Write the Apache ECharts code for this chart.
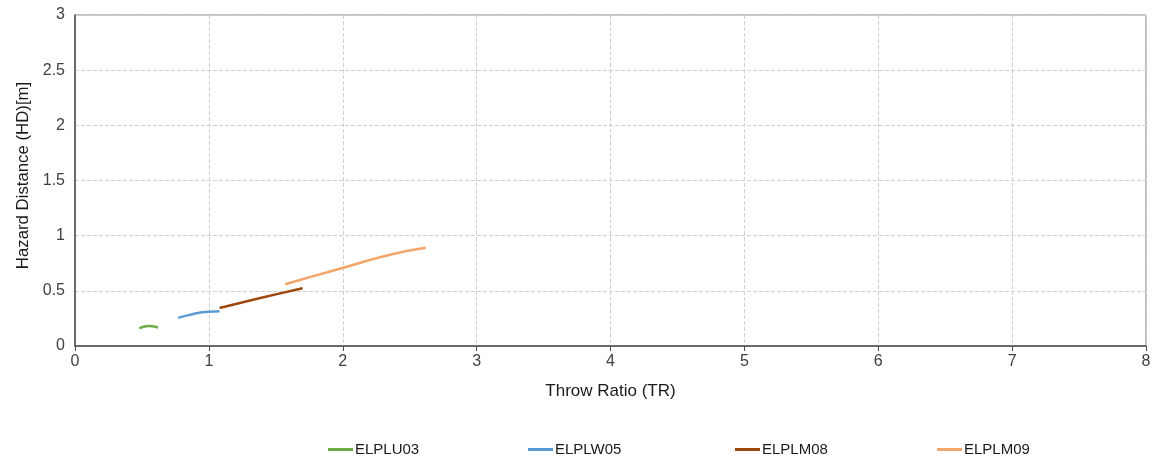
<!DOCTYPE html>
<html>
<head>
<meta charset="utf-8">
<script src="https://cdn.jsdelivr.net/npm/echarts@6/dist/echarts.min.js"></script>
<style>
  html, body { margin: 0; padding: 0; background: #fff; }
  #chart { width: 1157px; height: 459px; }
</style>
</head>
<body>
<div id="chart"></div>
<script>
// series names and [throw ratio, hazard distance] points
const seriesNames = ['ELPLU03', 'ELPLW05', 'ELPLM08', 'ELPLM09'];
const seriesColors = ['#70AD47', '#5B9BD5', '#9E480E', '#F4A56A'];

const elplu03 = [[0.48, 0.16], [0.52, 0.176], [0.55, 0.182], [0.59, 0.177], [0.62, 0.168]];
const elplw05 = [[0.77, 0.255], [0.85, 0.28], [0.92, 0.3], [1.0, 0.31], [1.08, 0.315]];
const elplm08 = [[1.08, 0.345], [1.3, 0.41], [1.5, 0.468], [1.7, 0.523]];
const elplm09 = [[1.57, 0.56], [1.8, 0.64], [2.05, 0.725], [2.36, 0.83], [2.62, 0.89]];

const seriesData = [elplu03, elplw05, elplm08, elplm09];
const legendLeft = [323, 523, 730, 932];

const chart = echarts.init(document.getElementById('chart'), null, { renderer: 'canvas' });

const textColor = '#404040';
const font = 'Liberation Sans';

const option = {
    animation: false,
    textStyle: { fontFamily: font, color: textColor },
    grid: {
        left: 75,
        right: 11,
        top: 15,
        bottom: 113,
        show: true,
        borderColor: '#7f7f7f',
        borderWidth: 1
    },
    legend: seriesNames.map((name, i) => ({
        data: [name],
        left: legendLeft[i],
        top: 437,
        itemWidth: 25,
        itemHeight: 3,
        itemGap: 3,
        icon: 'rect',
        textStyle: { fontFamily: font, fontSize: 15, color: '#1a1a1a', padding: [0, 0, 0, -3] }
    })),
    xAxis: {
        type: 'value',
        min: 0,
        max: 8,
        interval: 1,
        name: 'Throw Ratio (TR)',
        nameLocation: 'middle',
        nameGap: 37,
        nameTextStyle: { fontFamily: font, fontSize: 17, color: '#1a1a1a' },
        axisLine: { show: true, lineStyle: { color: '#4d4d4d', width: 1.5 } },
        axisTick: { show: true, inside: false, length: 5, lineStyle: { color: '#4d4d4d' } },
        axisLabel: { fontFamily: font, fontSize: 16, color: textColor, margin: 8 },
        splitLine: { show: true, lineStyle: { color: '#d0d0d0', type: 'dashed' } }
    },
    yAxis: {
        type: 'value',
        min: 0,
        max: 3,
        interval: 0.5,
        name: 'Hazard Distance (HD)[m]',
        nameLocation: 'middle',
        nameGap: 43,
        nameTextStyle: { fontFamily: font, fontSize: 16.8, color: '#1a1a1a', padding: [0, 0, 0, 10] },
        axisLine: { show: true, lineStyle: { color: '#4d4d4d', width: 1.5 } },
        axisTick: { show: false },
        axisLabel: { fontFamily: font, fontSize: 16, color: textColor, margin: 10 },
        splitLine: { show: true, lineStyle: { color: '#d0d0d0', type: 'dashed' } }
    },
    series: seriesNames.map((name, i) => ({
        name: name,
        type: 'line',
        smooth: true,
        showSymbol: false,
        symbol: 'none',
        data: seriesData[i],
        itemStyle: { color: seriesColors[i] },
        lineStyle: { color: seriesColors[i], width: 2.5 }
    }))
};

chart.setOption(option);
window.addEventListener('resize', chart.resize);
</script>
</body>
</html>
